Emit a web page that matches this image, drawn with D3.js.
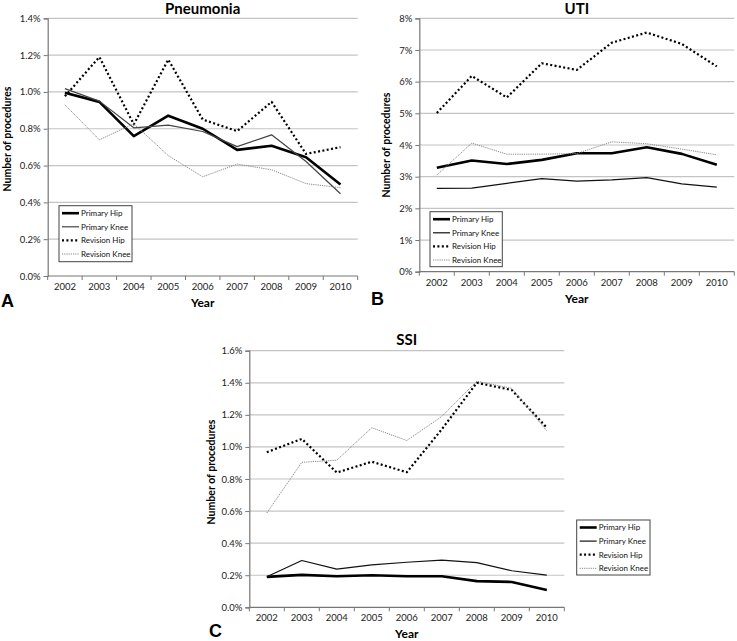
<!DOCTYPE html>
<html>
<head>
<meta charset="utf-8">
<script src="https://cdn.jsdelivr.net/npm/d3@7"></script>
<style>
  html, body { margin: 0; padding: 0; background: #fff; }
  svg { display: block; }
</style>
</head>
<body>
<svg id="chart" width="737" height="641" viewBox="0 0 737 641"></svg>
<script>
// --- Data (values in percent) ---
const years = [2002, 2003, 2004, 2005, 2006, 2007, 2008, 2009, 2010];
const seriesNames = ["Primary Hip", "Primary Knee", "Revision Hip", "Revision Knee"];

const pneumoniaPrimaryHip = [0.995, 0.946, 0.76, 0.871, 0.80, 0.685, 0.708, 0.645, 0.497];
const pneumoniaPrimaryKnee = [1.018, 0.95, 0.805, 0.82, 0.785, 0.703, 0.767, 0.622, 0.447];
const pneumoniaRevisionHip = [0.976, 1.19, 0.824, 1.176, 0.85, 0.787, 0.946, 0.663, 0.70];
const pneumoniaRevisionKnee = [0.93, 0.74, 0.827, 0.654, 0.539, 0.608, 0.577, 0.502, 0.48];

const utiPrimaryHip = [3.28, 3.51, 3.40, 3.53, 3.74, 3.74, 3.93, 3.72, 3.38];
const utiPrimaryKnee = [2.63, 2.64, 2.79, 2.94, 2.86, 2.90, 2.97, 2.77, 2.67];
const utiRevisionHip = [5.01, 6.18, 5.50, 6.58, 6.37, 7.23, 7.55, 7.19, 6.48];
const utiRevisionKnee = [3.05, 4.06, 3.71, 3.71, 3.73, 4.10, 4.04, 3.87, 3.69];

const ssiPrimaryHip = [0.19, 0.202, 0.194, 0.20, 0.194, 0.194, 0.163, 0.158, 0.108];
const ssiPrimaryKnee = [0.19, 0.292, 0.238, 0.265, 0.281, 0.294, 0.279, 0.228, 0.201];
const ssiRevisionHip = [0.967, 1.05, 0.84, 0.908, 0.842, 1.11, 1.40, 1.355, 1.12];
const ssiRevisionKnee = [0.588, 0.904, 0.917, 1.12, 1.04, 1.19, 1.41, 1.365, 1.10];

const pneumoniaTicks = [0, 0.2, 0.4, 0.6, 0.8, 1.0, 1.2, 1.4];
const utiTicks = [0, 1, 2, 3, 4, 5, 6, 7, 8];
const ssiTicks = [0, 0.2, 0.4, 0.6, 0.8, 1.0, 1.2, 1.4, 1.6];

// --- Layout & styles ---
const panels = [
  { title: "Pneumonia", letter: "A", ticks: pneumoniaTicks, fmt: d => d.toFixed(1) + "%",
    data: [pneumoniaPrimaryHip, pneumoniaPrimaryKnee, pneumoniaRevisionHip, pneumoniaRevisionKnee],
    x0: 47.7, x1: 357.7, y0: 276, y1: 18.3, knee: "#444", titleY: 14,
    yLabel: [6.5, 139], legend: { x: 59, y: 205.7, w: 73, h: 56 }, letterPos: [1, 307] },
  { title: "UTI", letter: "B", ticks: utiTicks, fmt: d => d + "%",
    data: [utiPrimaryHip, utiPrimaryKnee, utiRevisionHip, utiRevisionKnee],
    x0: 419.3, x1: 734.3, y0: 271.7, y1: 18.3, knee: "#111", titleY: 14,
    yLabel: [385.5, 145], legend: { x: 430, y: 211.7, w: 72.3, h: 55 }, letterPos: [371, 305] },
  { title: "SSI", letter: "C", ticks: ssiTicks, fmt: d => d.toFixed(1) + "%",
    data: [ssiPrimaryHip, ssiPrimaryKnee, ssiRevisionHip, ssiRevisionKnee],
    x0: 249.3, x1: 564.3, y0: 607.3, y1: 350.7, knee: "#111", titleY: 345,
    yLabel: [210.5, 472], legend: { x: 576.7, y: 520, w: 73.3, h: 55 }, letterPos: [209, 637] }
];

const font = "Lato, 'Open Sans', sans-serif";
const lineStyles = [
  { stroke: "#000", width: 2.6, dash: null },
  { stroke: null, width: 1.2, dash: null },
  { stroke: "#000", width: 2.2, dash: "2,2.4" },
  { stroke: "#888", width: 1, dash: "1.2,1" }
];

const svg = d3.select("#chart");

panels.forEach(p => {
  const g = svg.append("g");
  const x = d3.scaleBand().domain(years).range([p.x0, p.x1]);
  const y = d3.scaleLinear().domain([0, d3.max(p.ticks)]).range([p.y0, p.y1]);

  // gridlines
  g.selectAll(".grid")
    .data(p.ticks.filter(t => t > 0))
    .join("line")
    .attr("x1", p.x0).attr("x2", p.x1)
    .attr("y1", d => y(d)).attr("y2", d => y(d))
    .attr("stroke", "#c4c4c4").attr("stroke-width", 1.2);

  // y axis
  const yAxis = g.append("g").attr("transform", `translate(${p.x0},0)`)
    .call(d3.axisLeft(y).tickValues(p.ticks).tickFormat(p.fmt).tickSize(4).tickPadding(3));
  yAxis.select(".domain").attr("stroke", "#777").attr("stroke-width", 1.2);
  yAxis.selectAll(".tick line").attr("stroke", "#777");
  yAxis.selectAll("text").attr("font-family", font).attr("font-size", 9.5).attr("fill", "#222");

  // x axis: ticks at band edges
  const xAxis = g.append("g").attr("transform", `translate(0,${p.y0})`);
  xAxis.append("line").attr("x1", p.x0).attr("x2", p.x1).attr("y1", 0).attr("y2", 0)
    .attr("stroke", "#777").attr("stroke-width", 1.2);
  const edges = years.map(d => x(d)).concat([p.x1]);
  xAxis.selectAll(".xt").data(edges).join("line")
    .attr("x1", d => d).attr("x2", d => d).attr("y1", 0).attr("y2", 4)
    .attr("stroke", "#777");
  xAxis.selectAll(".xl").data(years).join("text")
    .attr("x", d => x(d) + x.bandwidth() / 2)
    .attr("y", 14)
    .attr("text-anchor", "middle")
    .attr("font-family", font).attr("font-size", 9.5).attr("fill", "#222")
    .text(d => d);

  // titles
  const cx = (p.x0 + p.x1) / 2;
  g.append("text").attr("x", cx).attr("y", p.titleY)
    .attr("text-anchor", "middle").attr("font-family", font)
    .attr("font-weight", "bold").attr("font-size", 15).text(p.title);
  g.append("text").attr("x", cx).attr("y", p.y0 + 31)
    .attr("text-anchor", "middle").attr("font-family", font)
    .attr("font-weight", "bold").attr("font-size", 12).text("Year");
  g.append("text")
    .attr("transform", `translate(${p.yLabel[0] + 4},${p.yLabel[1]}) rotate(-90)`)
    .attr("text-anchor", "middle").attr("font-family", font)
    .attr("font-weight", "bold").attr("font-size", 10.5).text("Number of procedures");
  g.append("text").attr("x", p.letterPos[0]).attr("y", p.letterPos[1])
    .attr("font-family", "'Liberation Sans', Arial, sans-serif")
    .attr("font-weight", "bold").attr("font-size", 18).text(p.letter);

  // lines
  const line = d3.line().x((d, i) => x(years[i]) + x.bandwidth() / 2).y(d => y(d));
  p.data.forEach((vals, si) => {
    const st = lineStyles[si];
    g.append("path").datum(vals)
      .attr("d", line)
      .attr("fill", "none")
      .attr("stroke", st.stroke || p.knee)
      .attr("stroke-width", st.width)
      .attr("stroke-dasharray", st.dash)
      .attr("stroke-linejoin", "round");
  });

  // legend
  const L = p.legend;
  const lg = g.append("g");
  lg.append("rect").attr("x", L.x).attr("y", L.y).attr("width", L.w).attr("height", L.h)
    .attr("fill", "#fff").attr("stroke", "#444").attr("stroke-width", 1);
  seriesNames.forEach((name, si) => {
    const st = lineStyles[si];
    const ly = L.y + 7.5 + si * 13.6;
    lg.append("line").attr("x1", L.x + 3).attr("x2", L.x + 20).attr("y1", ly).attr("y2", ly)
      .attr("stroke", st.stroke || p.knee).attr("stroke-width", st.width)
      .attr("stroke-dasharray", st.dash);
    lg.append("text").attr("x", L.x + 22).attr("y", ly).attr("dy", "0.35em")
      .attr("font-family", font).attr("font-size", 8).attr("fill", "#111").text(name);
  });
});
</script>
</body>
</html>
